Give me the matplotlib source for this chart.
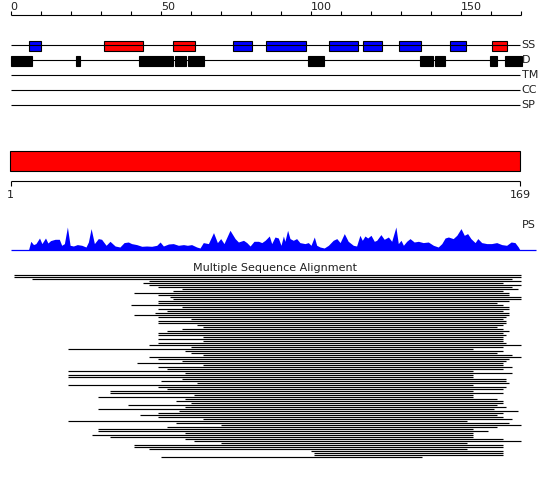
import numpy as np
import matplotlib
matplotlib.use("Agg")
import matplotlib.pyplot as plt
from matplotlib.patches import Rectangle

# sequence length and ruler
seq_len = 169
ruler_ticks = list(range(0, 171, 10))
ruler_labels = {0: "0", 50: "50", 100: "100", 150: "150"}

# secondary structure (H = helix red, E = strand blue), residue ranges
ss_start = [6, 31, 54, 74, 85, 106, 117.5, 129.5, 146.5, 160.5]
ss_end = [10, 44, 61.3, 80.3, 98.3, 115.7, 123.7, 136.7, 151.7, 165.5]
ss_type = ["E", "H", "H", "E", "E", "E", "E", "E", "E", "H"]

# disordered regions
dis_start = [0, 21.8, 42.8, 54.8, 59.1, 99.1, 136.4, 141.4, 159.8, 164.8]
dis_end = [7.1, 23.1, 54.1, 58.4, 64.4, 104.4, 140.8, 144.8, 162.1, 170.3]

track_names = ["SS", "D", "TM", "CC", "SP"]

# profile (PS): residue position, height
ps_pos = [5.9, 6.7, 7.6, 8.4, 9.6, 10.4, 11.6, 12.4, 13.3, 14.8, 16.2, 17.0, 17.9,
          18.9, 19.8, 20.9, 22.2, 23.7, 25.1, 25.9, 26.8, 27.9, 29.2, 30.3, 31.8,
          33.1, 34.8, 36.4, 37.8, 39.2, 40.3, 42.0, 43.7, 45.3, 47.0, 48.7, 49.8,
          50.9, 52.6, 54.2, 55.9, 57.6, 58.9, 60.3, 62.0, 63.1, 64.2, 65.9, 67.6,
          68.9, 70.0, 71.1, 73.1, 74.8, 75.9, 77.6, 78.7, 79.8, 81.1, 82.6, 83.7,
          84.8, 86.2, 87.0, 88.1, 89.2, 90.1, 90.9, 91.4, 92.3, 93.1, 94.2, 95.3,
          96.4, 98.1, 99.2, 100.1, 101.2, 102.0, 103.1, 104.5, 105.9, 107.5, 108.7,
          109.8, 111.2, 112.5, 114.2, 115.3, 116.4, 117.2, 118.1, 119.0, 120.1,
          121.2, 122.0, 123.4, 124.5, 125.9, 127.0, 128.4, 129.2, 130.1, 130.9,
          132.0, 133.1, 134.5, 135.9, 137.5, 139.2, 140.9, 142.5, 143.7, 144.8,
          145.9, 147.5, 148.7, 150.1, 151.2, 152.3, 153.4, 154.8, 155.7, 157.0,
          158.7, 160.3, 162.0, 163.7, 165.3, 166.8, 168.1, 169.2, 169.8]
ps_height = [0, 9, 5.7, 6.7, 12.3, 6.7, 12.3, 7.3, 9.7, 11, 11, 5, 6.7,
             23.3, 5, 4.3, 5.7, 5, 3.3, 8.3, 21.7, 6.7, 11.7, 11, 5,
             9, 4.3, 3.3, 7.7, 8.3, 6.7, 5.7, 4, 4.3, 4, 5, 8.3,
             4.3, 6.3, 6.7, 5, 5.7, 5, 5.7, 3.3, 2.3, 7.7, 6.7, 17.7,
             7.7, 11.7, 6.7, 20, 11.7, 8.3, 10, 7.7, 4.3, 9, 9, 7.7,
             10, 14.3, 6.7, 13.3, 12.3, 5, 14.3, 9, 20, 11.7, 10, 11.7,
             7.7, 6.7, 7.7, 5, 13.3, 5, 3.3, 2.3, 5, 10, 11.7,
             7.7, 16.7, 9, 5, 4.3, 15, 10, 14.3, 12.3, 15,
             9, 10, 15.7, 11, 13.3, 9, 23.3, 6.7, 10, 5,
             9, 11.7, 8.3, 9, 7.7, 8.3, 5, 3.3, 6.7, 12.3,
             13.3, 11.7, 15, 21.7, 15, 16.7, 11.7, 7.7, 11.7, 7.7,
             6.7, 6.7, 7.7, 5.7, 5, 8.3, 7.7, 3.3, 0]

# multiple sequence alignment: aligned range of every hit (residues)
msa_start = [1, 1, 7, 46, 44, 46, 49, 57, 54, 41, 49, 53, 54, 49, 49, 40,
             57, 49, 52, 48, 41, 49, 60, 49, 49, 62, 64, 57, 52, 49, 49, 64,
             49, 64, 49, 46, 60, 19, 58, 60, 64, 46, 49, 57, 42, 64, 49, 52,
             19, 58, 19, 19, 57, 50, 62, 19, 49, 52, 33, 33, 61, 29, 58, 55,
             60, 39, 58, 29, 56, 49, 43, 49, 64, 19, 55, 70, 52, 29, 29, 58,
             27, 33, 58, 61, 70, 41, 41, 46, 100, 101, 101, 50]
msa_end = [170, 170, 167, 170, 164, 170, 167, 169, 164, 166, 166, 170, 170,
           166, 162, 164, 166, 166, 164, 166, 166, 165, 164, 165, 165, 164,
           162, 164, 166, 164, 165, 164, 164, 164, 165, 170, 164, 154, 164,
           162, 167, 170, 166, 165, 164, 164, 167, 164, 154, 167, 154, 154,
           165, 165, 166, 154, 165, 164, 154, 164, 154, 154, 162, 164, 164,
           162, 165, 161, 169, 164, 162, 164, 167, 152, 166, 170, 162, 154,
           159, 154, 154, 154, 164, 170, 152, 164, 164, 152, 164, 164, 164, 137]

# figure: one axes, x in residues (3 px each), y in pixels from the top
fig = plt.figure(figsize=(5.5, 4.79), dpi=100)
ax = fig.add_axes([0, 0, 1, 1])
x0 = 10.7 / 3.0
ax.set_xlim(-x0, 550 / 3.0 - x0)
ax.set_ylim(479, 0)
ax.axis("off")

fs = 8
txt = "#202020"

# top ruler
ax.hlines(15, 0, 170, color="black", linewidth=0.8)
ax.vlines(ruler_ticks, 11, 15, color="black", linewidth=0.8)
for t, lab in ruler_labels.items():
    ax.text(t, 10, lab, ha="left", va="baseline", fontsize=fs, color=txt)

# feature tracks
track_y = [45, 60, 75, 90, 105]
for name, y in zip(track_names, track_y):
    ax.hlines(y, 0, 169.8, color="black", linewidth=0.8)
    ax.text(170.3, y, name, ha="left", va="center", fontsize=fs, color=txt)

for s, e, t in zip(ss_start, ss_end, ss_type):
    col = "#ff0000" if t == "H" else "#0000ff"
    ax.add_patch(Rectangle((s, 40.5), e - s, 10, facecolor=col,
                           edgecolor="black", linewidth=0.8))

for s, e in zip(dis_start, dis_end):
    ax.add_patch(Rectangle((s, 55.5), e - s, 10, facecolor="black",
                           edgecolor="black", linewidth=0.8))

# domain bar + bottom ruler
ax.add_patch(Rectangle((-0.1, 150.5), seq_len + 0.8, 20, facecolor="#ff0000",
                       edgecolor="black", linewidth=0.8))
ax.hlines(181, 0, seq_len + 0.8, color="black", linewidth=0.8)
ax.vlines([0, seq_len + 0.8], 181, 185.5, color="black", linewidth=0.8)
ax.text(0, 195, "1", ha="center", va="center", fontsize=fs, color=txt)
ax.text(seq_len + 0.8, 195, str(seq_len), ha="center", va="center", fontsize=fs, color=txt)

# profile
base = 250.3
ax.fill_between(ps_pos, base, base - np.array(ps_height), color="#0000ff", linewidth=0)
ax.hlines(base, 0, 175, color="#0000ff", linewidth=0.9)
ax.text(170.3, 225, "PS", ha="left", va="center", fontsize=fs, color=txt)

# alignment
ax.text(88.1, 271, "Multiple Sequence Alignment", ha="center", va="baseline",
        fontsize=fs, color=txt)
rows_y = 274.5 + 2.0 * np.arange(len(msa_start))
ax.hlines(rows_y, msa_start, msa_end, color="black", linewidth=0.85)

fig.savefig("out.png", dpi=100)
